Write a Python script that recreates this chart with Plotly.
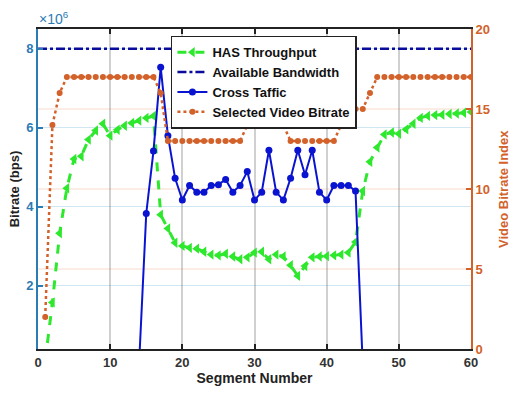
import plotly.graph_objects as go

# Segment indices
segments = list(range(1, 61))

# HAS throughput (x10^6 bps)
has_throughput = [
    0.10, 1.58, 3.33, 4.47, 5.21, 5.28, 5.70, 5.93, 6.10, 5.80,
    5.95, 6.05, 6.12, 6.18, 6.25, 6.30, 3.80, 3.45, 3.09, 3.01,
    2.96, 2.94, 2.86, 2.79, 2.77, 2.81, 2.74, 2.67, 2.72, 2.84,
    2.86, 2.67, 2.79, 2.74, 2.52, 2.25, 2.50, 2.72, 2.74, 2.75,
    2.77, 2.79, 2.84, 3.11, 4.40, 5.14, 5.50, 5.83, 5.88, 5.85,
    5.96, 6.10, 6.25, 6.30, 6.32, 6.33, 6.35, 6.36, 6.38, 6.40,
]

# Available bandwidth (x10^6 bps)
bw_segments = [0, 60]
bandwidth = [8.0, 8.0]

# Cross traffic (x10^6 bps)
cross_traffic = [
    0, 0, 0, 0, 0, 0, 0, 0, 0, 0,
    0, 0, 0, 0, 3.83, 5.41, 7.53, 5.80, 4.72, 4.17,
    4.54, 4.37, 4.37, 4.54, 4.56, 4.69, 4.37, 4.54, 4.89, 4.17,
    4.37, 5.43, 4.37, 4.17, 4.72, 5.43, 4.81, 5.43, 4.37, 4.17,
    4.54, 4.54, 4.54, 4.40, 0, 0, 0, 0, 0, 0,
    0, 0, 0, 0, 0, 0, 0, 0, 0, 0,
]

# Selected video bitrate index
video_index = [
    2, 14, 16, 17, 17, 17, 17, 17, 17, 17,
    17, 17, 17, 17, 17, 17, 16, 13, 13, 13,
    13, 13, 13, 13, 13, 13, 13, 13, 14, 14,
    14, 14, 14, 14, 13, 13, 13, 13, 13, 13,
    13, 14, 14, 15, 15, 16, 17, 17, 17, 17,
    17, 17, 17, 17, 17, 17, 17, 17, 17, 17,
]

x_ticks = [0, 10, 20, 30, 40, 50, 60]
left_ticks = [2, 4, 6, 8]
right_ticks = [0, 5, 10, 15, 20]

BLUE_AX = "#2b7bb5"
ORANGE = "#d2622a"
FONT = "Liberation Sans"

fig = go.Figure()

fig.add_trace(go.Scatter(
    x=segments, y=has_throughput, name="<b>HAS Throughput</b>",
    mode="lines+markers",
    line=dict(color="#2ee82e", width=3, dash="dash"),
    marker=dict(symbol="triangle-left", size=9, color="#2ee82e"),
))
fig.add_trace(go.Scatter(
    x=bw_segments, y=bandwidth, name="<b>Available Bandwidth</b>",
    mode="lines",
    line=dict(color="#0a0a9c", width=2.5, dash="dashdot"),
))
fig.add_trace(go.Scatter(
    x=segments, y=cross_traffic, name="<b>Cross Taffic</b>",
    mode="lines+markers",
    line=dict(color="#0a14d0", width=2),
    marker=dict(symbol="circle", size=7, color="#0a14d0"),
))
fig.add_trace(go.Scatter(
    x=segments, y=video_index, name="<b>Selected Video Bitrate</b>",
    mode="lines+markers", yaxis="y2",
    line=dict(color=ORANGE, width=2.5, dash="dot"),
    marker=dict(symbol="circle", size=6, color=ORANGE),
))

# Light horizontal grid lines for the right axis
for v in right_ticks[1:-1]:
    fig.add_shape(type="line", xref="paper", x0=0, x1=1, yref="y2", y0=v, y1=v,
                  line=dict(color="rgba(217,83,25,0.22)", width=1), layer="below")

fig.update_layout(
    width=511, height=396,
    margin=dict(l=38, r=40, t=29, b=39),
    paper_bgcolor="white", plot_bgcolor="white",
    font=dict(family=FONT, size=13, color="#222222"),
    showlegend=True,
    legend=dict(
        x=0.307, y=0.979, xanchor="left", yanchor="top",
        bgcolor="white", bordercolor="#222222", borderwidth=1.5,
        font=dict(family=FONT, size=13, color="#111111"),
        tracegroupgap=0, itemwidth=30,
    ),
    xaxis=dict(
        range=[0, 60], tickvals=x_ticks,
        ticks="inside", ticklen=5, tickwidth=1.5, tickcolor="#222222",
        showline=True, linecolor="#222222", linewidth=2, mirror="ticks",
        showgrid=True, gridcolor="rgba(120,120,120,0.35)", gridwidth=1.5,
        zeroline=False,
        tickfont=dict(family=FONT, size=13, color="#333333", weight="bold"),
        title=dict(text="<b>Segment Number</b>", font=dict(size=14, color="#222222"), standoff=5),
    ),
    yaxis=dict(
        range=[0.4, 8.5], tickvals=left_ticks,
        ticks="inside", ticklen=5, tickwidth=1.5, tickcolor=BLUE_AX,
        showline=True, linecolor=BLUE_AX, linewidth=2,
        showgrid=True, gridcolor="rgba(0,114,189,0.18)", gridwidth=1,
        zeroline=False,
        tickfont=dict(family=FONT, size=13, color=BLUE_AX, weight="bold"),
    ),
    yaxis2=dict(
        range=[0, 20], tickvals=right_ticks, overlaying="y", side="right",
        ticks="inside", ticklen=5, tickwidth=1.5, tickcolor=ORANGE,
        showline=True, linecolor=ORANGE, linewidth=2,
        showgrid=False, zeroline=False,
        tickfont=dict(family=FONT, size=13, color=ORANGE, weight="bold"),
    ),
    annotations=[
        dict(text="×10<sup>6</sup>", xref="paper", yref="paper", x=-0.003, y=1.0,
             xanchor="left", yanchor="bottom", showarrow=False,
             font=dict(family=FONT, size=14, color=BLUE_AX)),
        dict(text="<b>Bitrate (bps)</b>", xref="paper", yref="paper", x=-0.05, y=0.5,
             xanchor="center", yanchor="middle", textangle=-90, showarrow=False,
             xshift=-2, font=dict(family=FONT, size=13, color="#222222")),
        dict(text="<b>Video Bitrate Index</b>", xref="paper", yref="paper", x=1.0, y=0.5,
             xanchor="center", yanchor="middle", textangle=-90, showarrow=False,
             xshift=32, font=dict(family=FONT, size=13, color=ORANGE)),
    ],
)

fig.write_html("out.html")
